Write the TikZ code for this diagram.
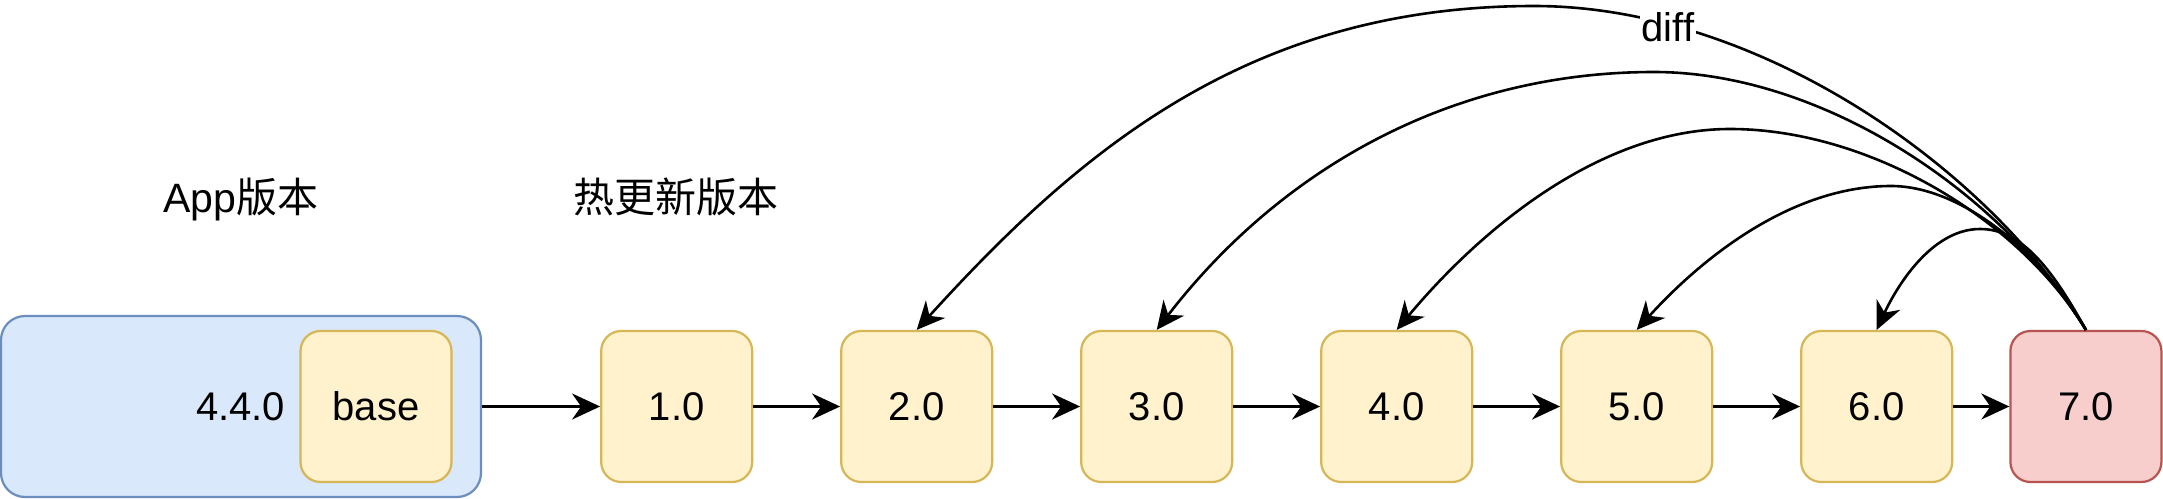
\documentclass[tikz,border=0pt]{standalone}
\usepackage{fontspec}
\setmainfont{Liberation Sans}
\newfontfamily\cjk{Noto Sans CJK SC}
\usepackage{xcolor}
\usepackage{tikz}
\usetikzlibrary{arrows.meta, positioning}

\definecolor{appfill}{HTML}{DAE8FC}
\definecolor{appline}{HTML}{6C8EBF}
\definecolor{verfill}{HTML}{FFF2CC}
\definecolor{verline}{HTML}{D6B656}
\definecolor{newfill}{HTML}{F8CECC}
\definecolor{newline}{HTML}{B85450}

\begin{document}
\begin{tikzpicture}[x=0.5pt, y=-0.5pt,
    boxtext/.style={font=\fontsize{20}{24}\selectfont},
    ver/.style={boxtext, draw=verline, fill=verfill, line width=1.1pt, rounded corners=10pt,
        minimum width=75.5pt, minimum height=75.5pt, inner sep=0pt},
    newver/.style={ver, draw=newline, fill=newfill},
    heading/.style={font=\fontsize{20.5}{24}\selectfont},
    link/.style={-{Stealth[length=14pt, width=13pt, inset=4.5pt]}, line width=1.3pt}]

    \useasboundingbox (0,0) rectangle (2163,498);

    % App version
    \node[draw=appline, fill=appfill, line width=1.1pt, rounded corners=12pt,
        minimum width=240pt, minimum height=90.5pt, inner sep=0pt] (app) at (241,406.5) {};
    \node[ver] (base) at (376,406.5) {base};
    \node[boxtext, inner sep=0pt, left=7pt of base] (appver) {4.4.0};

    % hot update versions
    \node[ver, right=59pt of app] (v1) {1.0};
    \node[ver, right=43.4pt of v1] (v2) {2.0};
    \node[ver, right=43.4pt of v2] (v3) {3.0};
    \node[ver, right=43.4pt of v3] (v4) {4.0};
    \node[ver, right=43.4pt of v4] (v5) {5.0};
    \node[ver, right=43.4pt of v5] (v6) {6.0};
    \node[newver, right=28pt of v6] (v7) {7.0};

    \node[heading] (applbl) at (241,199) {App{\cjk 版本}};
    \node[heading] (hotlbl) at (676,197) {\cjk 热更新版本};

    \draw[link] (app) -- (v1);
    \draw[link] (v1) -- (v2);
    \draw[link] (v2) -- (v3);
    \draw[link] (v3) -- (v4);
    \draw[link] (v4) -- (v5);
    \draw[link] (v5) -- (v6);
    \draw[link] (v6) -- (v7);

    % diff curves
    \draw[link] (v7.north) .. controls (1990,170) and (1760,6) .. (1534,6)
        .. controls (1250,6) and (1080,150) .. (v2.north);
    \draw[link] (v7.north) .. controls (2000,190) and (1820,72) .. (1654,72)
        .. controls (1450,72) and (1280,170) .. (v3.north);
    \draw[link] (v7.north) .. controls (2020,220) and (1870,129) .. (1730,129)
        .. controls (1600,129) and (1480,230) .. (v4.north);
    \draw[link] (v7.north) .. controls (2040,250) and (1960,186) .. (1891,186)
        .. controls (1790,186) and (1700,260) .. (v5.north);
    \draw[link] (v7.north) .. controls (2050,265) and (2020,229) .. (1980,229)
        .. controls (1930,229) and (1895,290) .. (v6.north);

    \node[boxtext, fill=white, inner sep=1pt] (difflbl) at (1668,27) {diff};

\end{tikzpicture}
\end{document}
